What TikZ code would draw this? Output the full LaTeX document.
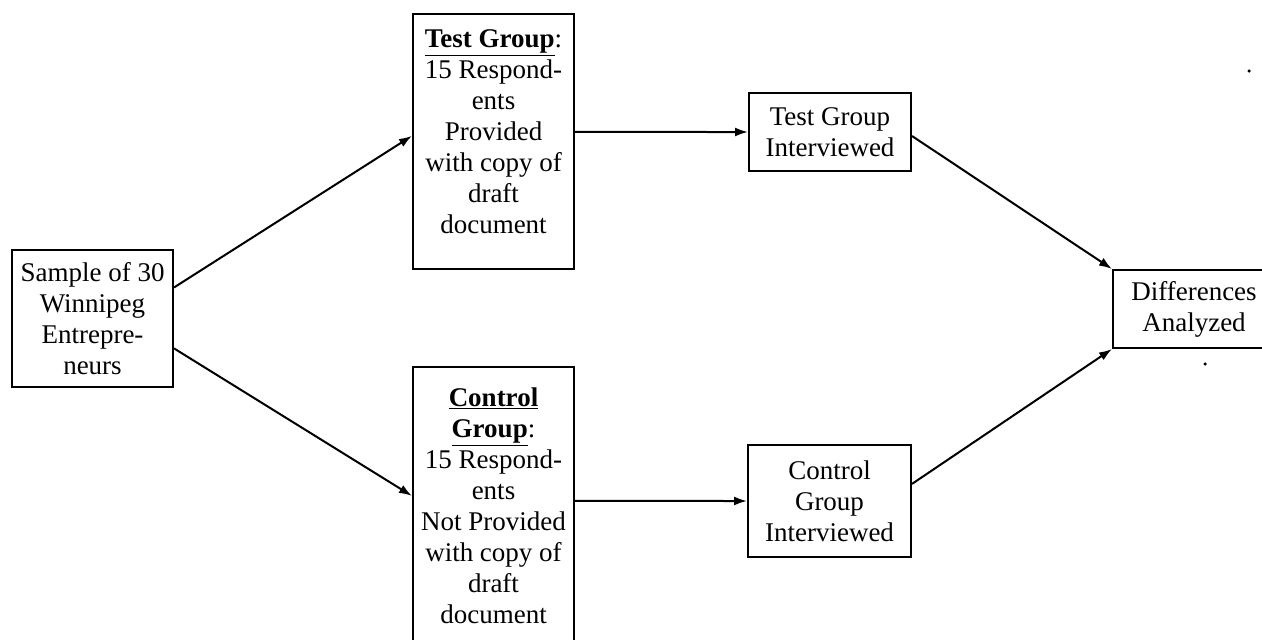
\documentclass[tikz,border=0pt]{standalone}
\usepackage{fontspec}
\setmainfont{Liberation Serif}
\usetikzlibrary{arrows.meta,calc}
\begin{document}
\begin{tikzpicture}[x=1pt,y=-1pt,
  box/.style={draw, line width=2pt, inner sep=0pt, align=center,
    font=\fontsize{27}{31}\selectfont},
  arr/.style={line width=2pt, -{Latex[length=13pt,width=9pt]}},
  speck/.style={fill=black, draw=none, circle, inner sep=0pt, minimum size=3.5pt}]
\useasboundingbox (0,0) rectangle (1262,640);
\clip (0,0) rectangle (1262,640);
\fill[white] (0,0) rectangle (1262,640);
\node[box, minimum width=161pt, minimum height=137pt] (s) at (92.5,318.5)
  {Sample of 30\\Winnipeg\\Entrepre-\\neurs};
\node[box, minimum width=161pt, minimum height=255pt] (t) at (493.5,141.5)
  {\underline{\textbf{Test Group}}:\\15 Respond-\\ents\\Provided\\with copy of\\draft\\document\\[-12pt]\mbox{}};
\node[box, minimum width=161pt, minimum height=278pt] (c) at (493.5,506)
  {\underline{\textbf{Control}}\\\underline{\textbf{Group}}:\\15 Respond-\\ents\\Not Provided\\with copy of\\draft\\document};
\node[box, minimum width=162pt, minimum height=78pt] (ti) at (830,132)
  {Test Group\\Interviewed};
\node[box, minimum width=163pt, minimum height=112pt] (ci) at (829.5,501)
  {Control\\Group\\Interviewed};
\node[box, minimum width=162pt, minimum height=78pt] (d) at (1194,309)
  {Differences\\Analyzed};
\node[speck] (p1) at (1249,71) {};
\node[speck] (p2) at (1205,364) {};
\draw[arr] ($(s.north east)!0.277!(s.south east)$) -- ($(t.north west)!0.478!(t.south west)$);
\draw[arr] ($(s.north east)!0.715!(s.south east)$) -- ($(c.north west)!0.464!(c.south west)$);
\draw[arr] ($(t.north east)!0.463!(t.south east)$) -- (ti.west);
\draw[arr] ($(c.north east)!0.482!(c.south east)$) -- (ci.west);
\draw[arr] ($(ti.north east)!0.55!(ti.south east)$) -- (d.north west);
\draw[arr] ($(ci.north east)!0.35!(ci.south east)$) -- (d.south west);
\end{tikzpicture}
\end{document}
